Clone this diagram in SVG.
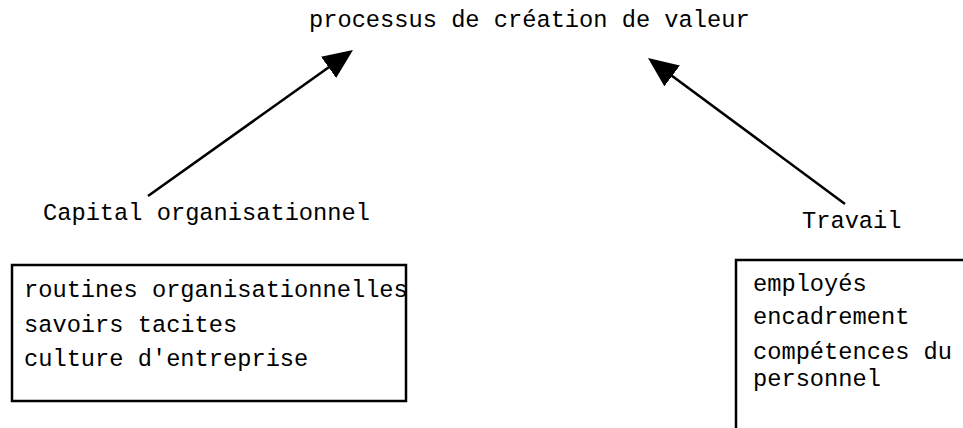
<svg xmlns="http://www.w3.org/2000/svg" width="963" height="428" viewBox="0 0 963 428">
  <style>
    .t { font-family: "Liberation Mono", "Courier New", monospace; font-size: 23.7px; fill: #000; }
    .box { fill: none; stroke: #000; stroke-width: 2.5; }
    .arrow { stroke: #000; stroke-width: 2.6; fill: none; marker-end: url(#head); }
  </style>
  <defs>
    <marker id="head" viewBox="0 0 30 26" refX="2" refY="13" markerWidth="30" markerHeight="26" markerUnits="userSpaceOnUse" orient="auto">
      <path d="M0,0 L30,13 L0,26 z" fill="#000"/>
    </marker>
  </defs>

  <rect width="963" height="428" fill="#fff"/>

  <g id="value-process">
    <text class="t" x="309" y="27">processus de création de valeur</text>
  </g>

  <g id="organisational-capital">
    <text class="t" x="43" y="220">Capital organisationnel</text>
    <rect class="box" x="12" y="265" width="394" height="136"/>
    <text class="t" x="24" y="297">routines organisationnelles</text>
    <text class="t" x="24" y="332">savoirs tacites</text>
    <text class="t" x="24" y="366">culture d'entreprise</text>
  </g>

  <g id="labour">
    <text class="t" x="802" y="228">Travail</text>
    <path class="box" d="M736,430 L736,260 L965,260"/>
    <text class="t" x="753" y="291">employés</text>
    <text class="t" x="753" y="324">encadrement</text>
    <text class="t" x="753" y="359">compétences du</text>
    <text class="t" x="753" y="386">personnel</text>
  </g>

  <g id="connectors">
    <line class="arrow" x1="148" y1="196" x2="330.2" y2="66.2"/>
    <line class="arrow" x1="845" y1="204" x2="670.5" y2="74.7"/>
  </g>
</svg>
